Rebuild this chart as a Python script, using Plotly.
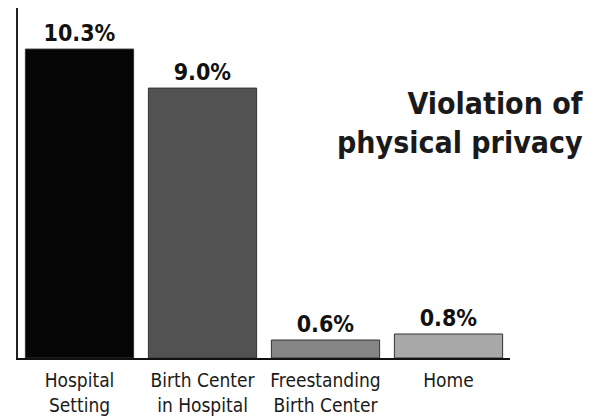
import plotly.graph_objects as go

categories = ["Hospital<br>Setting", "Birth Center<br>in Hospital", "Freestanding<br>Birth Center", "Home"]
values = [10.3, 9.0, 0.6, 0.8]
value_labels = ["10.3%", "9.0%", "0.6%", "0.8%"]
bar_colors = ["#050505", "#525252", "#858585", "#a8a8a8"]
title_text = "Violation of<br>physical privacy"

W, H = 595, 417
OFF = 8  # page body margin
ml, mr, mt, mb = 18 - OFF, W - (510 - OFF), 0, H - (358 - OFF)

fig = go.Figure()
fig.add_trace(go.Bar(
    x=categories, y=values,
    marker=dict(color=bar_colors, line=dict(color="#333333", width=1)),
    text=value_labels, textposition="outside",
    textfont=dict(family="DejaVu Sans Condensed", size=23, color="#111111", weight="bold"),
    cliponaxis=False,
    width=0.88,
))

fig.update_layout(
    width=W, height=H,
    margin=dict(l=ml, r=mr, t=mt, b=mb),
    paper_bgcolor="white", plot_bgcolor="white",
    showlegend=False,
    xaxis=dict(
        showline=True, linecolor="#111111", linewidth=2,
        showgrid=False, ticks="", tickfont=dict(family="DejaVu Sans Condensed", size=19, color="#1a1a1a"),
        fixedrange=True, automargin=False, ticklabelstandoff=4,
    ),
    yaxis=dict(
        range=[0, 11.67], showline=True, linecolor="#222222", linewidth=2,
        showgrid=False, zeroline=False, showticklabels=False, ticks="", automargin=False,
    ),
)

plot_w = W - ml - mr
plot_h = H - mt - mb
fig.add_annotation(
    xref="paper", yref="paper",
    x=(585 - OFF - ml) / plot_w, y=1 - (84 - OFF - mt) / plot_h,
    xanchor="right", yanchor="top", align="right",
    text=title_text, showarrow=False,
    font=dict(family="DejaVu Sans Condensed", size=30, color="#1a1a1a", weight="bold"),
)

fig.write_html("out.html")
